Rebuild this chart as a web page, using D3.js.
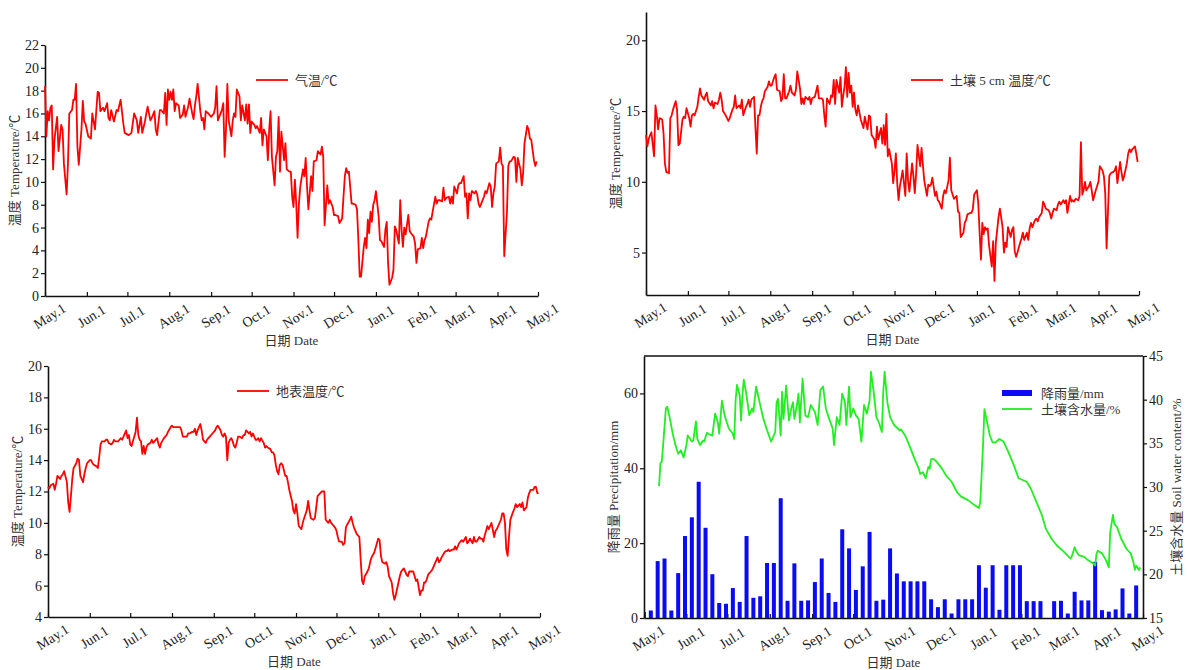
<!DOCTYPE html>
<html lang="zh">
<head>
<meta charset="UTF-8">
<title>气温、土壤温度与降雨</title>
<script src="https://cdn.jsdelivr.net/npm/d3@7"></script>
<style>
  body { margin: 0; background: #fff; }
  svg { display: block; font-family: "Liberation Serif", "Noto Sans CJK SC", serif; }
  .axis path, .axis line { stroke: #111; }
  .axis path { stroke-width: 1.6; }
  .axis line { stroke-width: 1.2; }
  .axis text { font-size: 14px; fill: #222; font-family: "Liberation Serif", serif; }
  .title, .legend { font-size: 13px; fill: #333; }
</style>
</head>
<body>
<svg width="1187" height="670"></svg>
<script>
// [days since May 1, value]
const airTemp = [[0,18.4],[1,14.0],[2,16.2],[3,15.4],[4,16.5],[5,16.7],[6,11.1],[7,13.7],[9,15.7],[10,12.7],[12,15.0],[13,14.6],[14,11.6],[16,8.9],[17,11.6],[18,16.0],[20,16.3],[21,17.2],[22,17.2],[23,18.6],[24,13.1],[25,11.5],[27,14.6],[28,17.1],[29,15.3],[30,15.1],[32,14.0],[34,13.8],[35,16.0],[37,14.6],[38,16.3],[39,17.9],[40,17.8],[41,16.2],[43,16.5],[44,16.2],[46,16.9],[47,15.6],[48,15.4],[49,16.3],[51,15.3],[53,16.3],[54,16.2],[56,17.2],[58,15.1],[59,14.3],[62,14.1],[64,14.3],[66,16.0],[68,15.4],[69,14.3],[71,15.7],[72,14.3],[74,15.3],[75,16.0],[76,16.6],[78,15.4],[79,15.6],[81,16.2],[82,14.6],[83,14.1],[85,16.3],[86,16.3],[88,16.0],[89,17.8],[90,15.0],[91,18.1],[92,17.2],[93,17.9],[94,17.2],[95,18.1],[96,16.2],[97,16.9],[99,16.7],[100,15.6],[102,15.9],[103,16.7],[104,15.7],[106,16.6],[107,17.3],[109,16.0],[110,15.5],[111,16.7],[112,17.5],[113,18.6],[115,16.2],[116,15.4],[117,15.6],[118,14.6],[119,16.2],[121,16.0],[123,15.7],[125,16.0],[126,16.5],[127,18.4],[128,15.4],[130,16.0],[131,16.3],[132,16.9],[133,12.2],[134,14.6],[135,18.6],[136,15.4],[138,14.0],[139,15.4],[140,16.0],[141,15.7],[142,18.1],[144,17.5],[145,15.4],[146,16.7],[148,15.4],[149,16.8],[150,15.1],[151,16.8],[152,14.3],[153,15.3],[155,15.0],[156,14.7],[157,14.9],[159,14.3],[160,15.6],[161,13.2],[162,14.6],[164,14.0],[165,11.9],[166,14.6],[167,16.2],[168,12.2],[170,9.7],[171,12.2],[172,12.7],[173,15.7],[174,10.9],[175,14.4],[177,11.9],[178,13.4],[179,11.1],[181,10.9],[182,10.9],[183,8.7],[184,7.8],[185,10.2],[186,8.1],[187,5.1],[188,8.1],[189,9.6],[191,11.1],[192,10.5],[193,12.1],[194,9.6],[195,7.6],[197,10.5],[198,9.2],[199,11.8],[201,11.9],[202,12.7],[204,12.4],[205,13.1],[206,12.2],[207,6.2],[209,9.7],[210,8.1],[211,8.4],[213,7.8],[214,7.1],[215,7.1],[217,7.0],[218,6.4],[220,6.8],[221,8.7],[222,10.5],[223,11.2],[224,10.8],[225,10.9],[227,8.1],[228,8.1],[230,8.0],[231,7.6],[232,4.9],[233,1.7],[234,1.7],[236,4.3],[237,5.1],[238,4.2],[239,6.7],[240,5.5],[241,7.4],[242,6.5],[243,8.0],[244,8.4],[245,9.2],[247,7.0],[248,4.9],[249,4.8],[251,4.3],[252,5.8],[253,6.5],[254,2.9],[255,1.0],[257,1.6],[258,2.3],[259,6.1],[260,5.8],[262,4.6],[263,8.4],[264,5.8],[265,4.3],[266,6.0],[267,5.4],[269,7.1],[270,5.7],[271,5.5],[273,5.2],[274,4.6],[275,2.9],[276,4.1],[278,4.2],[279,5.1],[280,4.2],[281,4.9],[282,5.2],[284,6.5],[285,6.8],[286,6.7],[287,7.4],[289,8.7],[290,8.1],[291,8.4],[292,8.4],[294,8.3],[295,9.5],[296,8.4],[297,8.6],[299,8.7],[300,8.1],[301,8.7],[302,8.1],[303,9.6],[305,9.0],[306,9.7],[307,9.9],[308,9.9],[310,10.5],[311,8.7],[312,9.0],[313,6.8],[314,9.0],[315,8.4],[316,9.2],[318,9.0],[319,9.2],[320,8.9],[321,8.1],[322,7.8],[324,8.4],[325,8.7],[326,9.2],[327,9.0],[329,9.9],[330,9.6],[331,7.8],[332,9.0],[333,9.6],[334,11.6],[336,11.8],[337,13.0],[338,11.6],[339,11.4],[340,3.5],[342,7.3],[343,11.4],[344,11.8],[345,11.8],[347,12.2],[348,12.1],[349,10.0],[350,12.1],[352,11.1],[353,9.7],[354,10.8],[355,13.4],[357,14.9],[358,14.6],[359,13.8],[360,13.7],[361,12.8],[362,11.9],[363,11.4],[364,11.8]];

const soilTemp5 = [[0,13.3],[1,12.5],[2,13.0],[3,13.3],[4,13.5],[6,11.8],[7,15.4],[8,14.7],[9,13.7],[10,14.5],[12,14.4],[13,13.4],[14,11.3],[15,10.7],[17,10.6],[18,14.5],[19,14.7],[20,15.1],[22,15.7],[23,15.1],[24,12.6],[25,12.7],[27,14.4],[28,14.6],[29,14.5],[30,15.2],[32,14.5],[33,13.9],[34,14.7],[35,14.8],[36,14.7],[38,15.3],[39,16.0],[40,16.6],[41,16.1],[43,15.8],[44,16.1],[45,16.3],[46,15.7],[48,15.4],[49,15.7],[50,15.2],[51,15.6],[53,15.5],[54,15.8],[55,16.3],[56,15.8],[57,15.0],[59,14.7],[60,14.5],[61,14.3],[62,14.5],[64,15.1],[65,15.3],[66,16.1],[67,15.2],[69,15.4],[70,15.2],[71,15.8],[72,14.7],[74,15.3],[75,15.5],[76,15.8],[77,15.3],[78,15.8],[80,16.0],[81,13.9],[82,12.0],[83,14.7],[84,14.7],[85,15.3],[86,15.7],[87,15.9],[88,16.4],[90,16.7],[91,17.1],[92,16.8],[93,16.8],[94,17.1],[95,17.4],[96,17.6],[97,16.5],[99,16.4],[100,15.7],[101,15.9],[102,17.6],[103,15.9],[104,15.9],[106,16.4],[107,16.8],[108,16.3],[110,16.1],[111,16.5],[112,17.8],[114,16.6],[115,15.5],[116,15.9],[117,15.5],[118,16.0],[120,15.8],[121,16.0],[122,15.5],[123,15.9],[125,16.0],[126,16.4],[127,16.8],[128,15.9],[130,15.9],[131,15.8],[132,14.7],[133,13.9],[134,15.9],[136,15.5],[137,16.1],[138,16.0],[139,17.2],[140,15.5],[141,17.2],[143,16.3],[144,17.4],[145,15.3],[146,16.1],[147,16.7],[148,18.1],[149,16.0],[150,17.7],[151,16.3],[152,16.8],[153,15.3],[154,16.3],[155,15.1],[156,14.7],[157,15.4],[159,14.4],[160,14.1],[161,13.8],[162,14.6],[164,13.7],[165,14.7],[166,14.6],[167,13.3],[169,13.0],[170,12.4],[171,13.9],[172,13.0],[174,13.8],[175,12.7],[176,14.0],[177,12.6],[178,14.8],[179,11.8],[180,12.3],[182,11.3],[183,9.9],[184,10.8],[185,12.0],[186,9.9],[187,8.7],[188,9.7],[190,10.8],[191,9.9],[192,9.0],[193,12.0],[194,10.1],[195,9.3],[197,11.3],[198,10.4],[199,9.2],[200,10.6],[201,12.6],[203,11.1],[204,12.4],[205,11.2],[206,10.1],[208,9.0],[209,9.8],[210,9.7],[211,9.8],[212,10.3],[214,9.0],[215,9.3],[216,8.7],[217,8.6],[219,8.1],[220,9.0],[221,9.4],[222,9.2],[224,10.1],[225,11.7],[226,9.4],[227,9.1],[228,8.8],[230,9.0],[231,7.9],[232,7.8],[233,6.1],[235,6.4],[236,7.1],[237,7.3],[238,7.7],[240,7.8],[241,7.8],[242,8.1],[243,9.1],[245,9.4],[246,8.5],[247,6.4],[248,4.5],[249,7.1],[250,6.3],[251,6.8],[252,6.6],[253,6.7],[254,5.5],[256,4.0],[257,5.8],[258,3.0],[259,5.7],[260,6.6],[261,7.5],[262,8.1],[264,6.8],[265,5.0],[266,5.7],[267,5.4],[268,6.8],[270,6.1],[271,6.6],[272,6.8],[273,5.1],[274,4.7],[275,5.0],[277,5.7],[278,6.0],[279,6.4],[280,5.9],[282,6.4],[283,5.9],[284,6.7],[285,7.1],[286,6.8],[288,7.3],[289,7.4],[290,7.2],[291,7.5],[293,7.8],[294,8.6],[295,8.4],[296,8.1],[298,8.0],[299,7.8],[300,7.4],[301,7.8],[302,8.1],[304,8.0],[305,8.4],[306,8.6],[307,8.4],[309,8.7],[310,8.5],[311,8.7],[312,7.8],[314,9.0],[315,8.6],[316,8.7],[317,8.6],[318,8.8],[320,8.7],[321,9.0],[322,12.8],[323,9.1],[324,9.4],[325,10.0],[326,9.4],[328,9.7],[329,10.0],[330,9.4],[331,8.7],[333,9.4],[334,9.7],[335,10.0],[336,11.1],[338,10.8],[339,10.4],[340,9.2],[341,5.3],[342,7.8],[343,10.4],[344,10.6],[346,10.7],[347,10.8],[348,11.1],[349,9.9],[351,11.4],[352,10.7],[353,10.1],[354,10.4],[356,11.3],[357,12.0],[358,12.3],[359,12.1],[360,12.3],[362,12.5],[363,12.0],[364,11.4]];

const surfaceTemp = [[0,12.3],[1,12.2],[2,12.4],[4,12.5],[5,12.1],[6,12.5],[7,13.0],[9,12.8],[10,13.0],[11,13.1],[12,13.3],[14,12.6],[15,11.3],[16,10.7],[17,11.7],[18,12.8],[19,13.5],[21,13.8],[22,14.1],[23,14.0],[24,13.0],[26,12.6],[27,13.1],[28,13.5],[29,13.8],[31,14.0],[32,14.0],[33,13.8],[34,13.7],[36,13.6],[37,13.5],[38,14.2],[39,15.0],[40,15.2],[42,15.2],[43,15.3],[44,15.3],[45,15.1],[47,15.0],[48,15.1],[49,15.3],[50,15.2],[52,15.2],[53,15.3],[54,15.4],[55,15.3],[56,15.5],[58,15.9],[59,15.4],[60,15.6],[61,15.0],[62,14.9],[63,15.2],[65,15.8],[66,16.7],[67,15.6],[68,15.3],[69,15.2],[70,14.4],[71,14.9],[72,14.4],[73,14.8],[74,15.0],[76,15.1],[77,15.3],[78,15.1],[79,15.2],[81,15.4],[82,15.0],[83,14.8],[84,15.1],[86,15.4],[87,15.5],[88,15.6],[89,15.8],[91,16.1],[92,16.2],[93,16.1],[94,16.1],[96,16.1],[97,16.1],[98,16.1],[99,15.9],[100,15.5],[102,15.5],[103,15.5],[104,15.7],[105,15.7],[107,15.8],[108,15.8],[109,16.0],[110,15.6],[111,15.9],[112,16.1],[113,16.3],[114,15.9],[115,15.3],[117,15.1],[118,15.3],[119,15.4],[120,15.5],[121,15.6],[123,15.8],[124,15.9],[125,16.1],[126,16.2],[128,15.9],[129,15.6],[130,15.5],[131,15.7],[132,15.5],[133,14.0],[134,15.1],[135,15.3],[136,15.4],[137,15.2],[138,14.9],[139,14.8],[140,15.1],[141,15.5],[142,15.5],[144,15.4],[145,15.6],[146,15.6],[147,15.9],[149,15.7],[150,15.8],[151,15.5],[152,15.7],[154,15.3],[155,15.3],[156,15.4],[157,15.2],[158,15.4],[160,15.1],[161,14.8],[162,14.9],[163,14.8],[165,14.7],[166,14.5],[167,14.5],[168,14.3],[169,13.7],[170,13.3],[171,13.1],[172,13.7],[173,13.8],[174,13.7],[176,13.0],[177,13.0],[178,12.6],[179,12.1],[181,11.4],[182,10.8],[183,10.6],[184,11.2],[185,10.6],[186,9.8],[188,9.6],[189,10.0],[190,10.3],[192,10.8],[193,11.4],[194,10.8],[195,10.3],[197,10.2],[198,10.3],[199,11.0],[200,11.7],[202,11.9],[203,12.0],[204,12.0],[205,12.0],[206,10.2],[208,10.0],[209,10.2],[210,10.0],[211,9.9],[213,9.7],[214,9.5],[215,9.1],[216,8.8],[218,8.8],[219,8.6],[220,8.7],[221,9.7],[222,9.9],[224,10.2],[225,10.4],[226,10.0],[227,9.7],[228,9.5],[229,9.3],[231,9.1],[232,7.6],[233,6.3],[234,6.1],[235,6.6],[237,6.9],[238,7.1],[239,7.5],[240,7.8],[242,8.1],[243,8.4],[244,8.7],[245,9.0],[246,8.9],[247,7.9],[248,7.5],[250,7.4],[251,7.5],[252,7.2],[253,6.6],[255,6.2],[256,5.5],[257,5.1],[258,5.4],[260,6.2],[261,6.6],[262,6.9],[263,7.0],[264,7.1],[266,6.7],[267,6.6],[268,6.9],[269,6.9],[271,6.9],[272,6.6],[273,6.3],[274,6.4],[276,5.4],[277,5.7],[278,5.7],[279,6.2],[280,6.2],[281,6.4],[282,6.7],[284,6.9],[285,7.0],[286,7.2],[287,7.4],[289,7.8],[290,7.5],[291,7.6],[292,7.8],[294,8.1],[295,8.2],[296,8.2],[297,8.3],[298,8.2],[300,8.3],[301,8.3],[302,8.5],[303,8.3],[305,8.7],[306,8.8],[307,8.9],[308,8.8],[310,9.1],[311,8.7],[312,8.8],[313,9.0],[315,8.7],[316,9.1],[317,8.8],[318,8.8],[320,9.1],[321,9.0],[322,9.0],[323,8.8],[324,9.2],[326,9.8],[327,9.6],[328,9.8],[329,10.0],[331,9.1],[332,9.5],[333,9.6],[334,9.8],[336,10.2],[337,10.6],[338,10.6],[339,10.0],[340,8.3],[341,7.9],[342,9.1],[343,10.2],[345,10.7],[346,10.9],[347,11.2],[348,11.0],[350,11.2],[351,11.0],[352,11.3],[353,10.8],[355,11.0],[356,11.6],[357,11.9],[358,12.1],[360,12.1],[361,12.3],[362,12.3],[363,11.9],[364,11.9]];

const soilWater = [[11,30.1],[12,32.7],[13,32.9],[14,34.8],[16,39.0],[17,39.2],[19,37.8],[21,36.1],[23,34.8],[25,33.8],[27,34.2],[29,33.4],[31,34.8],[32,35.9],[35,35.2],[36,35.3],[38,37.5],[39,35.5],[41,34.8],[43,35.3],[44,35.2],[46,36.2],[48,36.0],[50,35.9],[52,38.4],[54,37.4],[55,36.1],[57,39.9],[59,38.2],[62,36.7],[65,36.1],[66,35.5],[67,39.9],[68,41.7],[70,40.5],[71,37.6],[72,40.5],[73,42.3],[75,40.5],[77,38.2],[79,39.0],[80,38.6],[82,41.5],[84,40.1],[87,38.0],[90,36.5],[93,35.2],[96,36.3],[97,39.7],[98,40.1],[100,35.9],[101,40.9],[102,37.8],[104,41.6],[106,37.6],[108,39.2],[109,39.7],[110,37.8],[112,39.5],[113,40.7],[114,37.4],[116,42.4],[118,38.2],[120,38.0],[122,39.4],[125,38.6],[127,37.1],[129,41.1],[131,41.5],[133,39.0],[135,38.0],[138,36.7],[139,34.8],[141,38.0],[143,37.1],[145,40.7],[147,39.7],[148,37.1],[150,41.5],[151,38.0],[153,39.0],[155,38.2],[157,37.8],[159,35.2],[161,39.4],[163,38.4],[165,39.9],[166,43.2],[168,40.9],[170,38.0],[172,37.3],[174,36.3],[175,40.9],[176,43.2],[178,39.7],[180,38.0],[183,37.1],[187,36.5],[188,36.6],[191,35.9],[194,34.8],[198,33.2],[201,32.1],[202,31.5],[204,31.7],[206,31.0],[208,32.3],[209,32.1],[210,33.2],[212,33.2],[214,32.9],[218,32.1],[221,31.3],[225,30.6],[229,29.4],[232,28.9],[237,28.5],[242,27.9],[245,27.6],[246,28.3],[248,34.8],[249,38.9],[251,37.4],[253,35.9],[255,35.1],[257,35.1],[260,35.5],[263,35.2],[266,34.2],[270,32.7],[274,31.0],[277,30.8],[280,30.6],[283,29.8],[287,28.3],[291,26.8],[294,25.2],[298,24.1],[302,23.3],[307,22.6],[312,21.8],[313,22.1],[315,23.1],[316,22.7],[318,22.2],[322,22.0],[325,21.6],[329,21.2],[330,21.0],[331,22.4],[332,22.7],[335,22.4],[338,21.6],[340,20.8],[341,24.8],[343,26.8],[344,25.8],[346,25.4],[349,24.1],[353,22.9],[356,22.4],[358,21.4],[359,20.5],[360,21.0],[362,20.5],[363,20.8]];

// 5-day rainfall totals (mm), one per pentad starting May 1
const rainfall = [1.6,2.0,15.2,15.9,2.0,12.0,21.9,26.9,36.4,24.1,11.7,4.0,3.8,8.0,4.3,21.9,5.4,5.8,14.7,14.7,32.0,4.6,14.6,4.6,4.7,9.6,15.9,6.7,4.3,23.7,18.6,7.5,13.8,23.0,4.6,4.9,18.6,11.9,9.8,9.8,9.8,9.8,5.0,2.9,5.0,1.2,5.0,5.0,5.0,14.1,8.1,14.1,2.2,14.1,14.1,14.1,4.5,4.5,4.5,0,4.5,4.6,1.2,7.0,4.7,4.7,15.0,2.1,1.7,2.3,7.9,1.2,8.7];

const tempTicks1 = d3.range(0, 23, 2);
const tempTicks2 = [5, 10, 15, 20];
const tempTicks3 = d3.range(4, 21, 2);
const rainTicks = [0, 20, 40, 60];
const waterTicks = [15, 20, 25, 30, 35, 40, 45];

const svg = d3.select("svg");
const start = new Date(2013, 4, 1), end = new Date(2014, 4, 1);
const day = d => d3.timeDay.offset(start, d);
const months = d3.timeMonth.range(start, d3.timeDay.offset(end, 1));
const monthName = d3.timeFormat("%b");

function panel(p) {
  const g = svg.append("g");
  const x = d3.scaleTime().domain([start, end]).range([p.left, p.right]);
  const y = d3.scaleLinear().domain(p.yDomain).range([p.bottom, p.top]);

  const xa = g.append("g").attr("class", "axis")
    .attr("transform", `translate(0,${p.bottom})`)
    .call(d3.axisBottom(x).tickValues(months).tickSize(-4).tickSizeOuter(0)
      .tickFormat(d => monthName(d) + ".1"));
  xa.selectAll(".tick text")
    .attr("x", 0).attr("y", 0).attr("dy", "0.35em")
    .attr("text-anchor", "middle")
    .attr("transform", "translate(4,20) rotate(-32)");

  g.append("g").attr("class", "axis")
    .attr("transform", `translate(${p.left},0)`)
    .call(d3.axisLeft(y).tickValues(p.yTicks).tickSize(4).tickSizeOuter(0).tickPadding(2));

  g.append("text").attr("class", "title")
    .attr("x", (p.left + p.right) / 2).attr("y", p.bottom + 44)
    .attr("dy", "0.35em").attr("text-anchor", "middle").text("日期 Date");

  const cy = (p.top + p.bottom) / 2;
  g.append("text").attr("class", "title")
    .attr("transform", `translate(${p.left - 31},${cy}) rotate(-90)`)
    .attr("dy", "0.35em").attr("text-anchor", "middle").text(p.yTitle);

  return { g, x, y };
}

const line = (x, y) => d3.line().x(d => x(day(d[0]))).y(d => y(d[1]));

function redPanel(p, data, label, lx, ly) {
  const { g, x, y } = panel(p);
  g.append("path").datum(data)
    .attr("fill", "none").attr("stroke", "#ff0000").attr("stroke-width", 1.8)
    .attr("stroke-linejoin", "round").attr("d", line(x, y));
  g.append("line").attr("x1", lx).attr("x2", lx + 32).attr("y1", ly).attr("y2", ly)
    .attr("stroke", "#ff0000").attr("stroke-width", 1.8);
  g.append("text").attr("class", "legend").attr("x", lx + 39).attr("y", ly)
    .attr("dy", "0.35em").text(label);
}

redPanel({ left: 45, right: 538, top: 45, bottom: 296, yDomain: [0, 22], yTicks: tempTicks1,
  yTitle: "温度 Temperature/℃" }, airTemp, "气温/℃", 256, 80);

redPanel({ left: 646, right: 1139, top: 12, bottom: 295, yDomain: [2, 22], yTicks: tempTicks2,
  yTitle: "温度 Temperature/℃" }, soilTemp5, "土壤 5 cm 温度/℃", 911, 80);

redPanel({ left: 48, right: 540, top: 366, bottom: 617, yDomain: [4, 20], yTicks: tempTicks3,
  yTitle: "温度 Temperature/℃" }, surfaceTemp, "地表温度/℃", 237, 391);

// precipitation + soil water panel
{
  const p = { left: 644, right: 1143, top: 356, bottom: 618, yDomain: [0, 70], yTicks: rainTicks,
    yTitle: "降雨量 Precipitation/mm" };
  const { g, x, y } = panel(p);
  const y2 = d3.scaleLinear().domain([15, 45]).range([p.bottom, p.top]);

  g.append("clipPath").attr("id", "clip4").append("rect")
    .attr("x", p.left + 1).attr("y", p.top).attr("width", p.right - p.left - 2).attr("height", p.bottom - p.top);

  g.append("g").attr("clip-path", "url(#clip4)").selectAll("rect").data(rainfall).join("rect")
    .attr("x", (d, i) => x(day(i * 5)) - 2)
    .attr("width", 4)
    .attr("y", d => y(d))
    .attr("height", d => p.bottom - y(d))
    .attr("fill", "#0a0af5");

  g.append("path").datum(soilWater)
    .attr("fill", "none").attr("stroke", "#22ee22").attr("stroke-width", 1.8)
    .attr("stroke-linejoin", "round").attr("d", line(x, y2));

  g.append("line").attr("x1", p.left).attr("x2", p.right).attr("y1", p.top).attr("y2", p.top)
    .attr("stroke", "#111").attr("stroke-width", 1.6);

  g.append("g").attr("class", "axis")
    .attr("transform", `translate(${p.right},0)`)
    .call(d3.axisRight(y2).tickValues(waterTicks).tickSize(4).tickSizeOuter(0).tickPadding(2));

  g.append("text").attr("class", "title")
    .attr("transform", `translate(${p.right + 33},${(p.top + p.bottom) / 2}) rotate(-90)`)
    .attr("dy", "0.35em").attr("text-anchor", "middle").text("土壤含水量 Soil water content/%");

  g.append("rect").attr("x", 1002).attr("y", 390).attr("width", 30).attr("height", 6).attr("fill", "#0a0af5");
  g.append("text").attr("class", "legend").attr("x", 1041).attr("y", 393).attr("dy", "0.35em").text("降雨量/mm");
  g.append("line").attr("x1", 1002).attr("x2", 1032).attr("y1", 409).attr("y2", 409)
    .attr("stroke", "#22ee22").attr("stroke-width", 1.8);
  g.append("text").attr("class", "legend").attr("x", 1041).attr("y", 409).attr("dy", "0.35em").text("土壤含水量/%");
}
</script>
</body>
</html>
